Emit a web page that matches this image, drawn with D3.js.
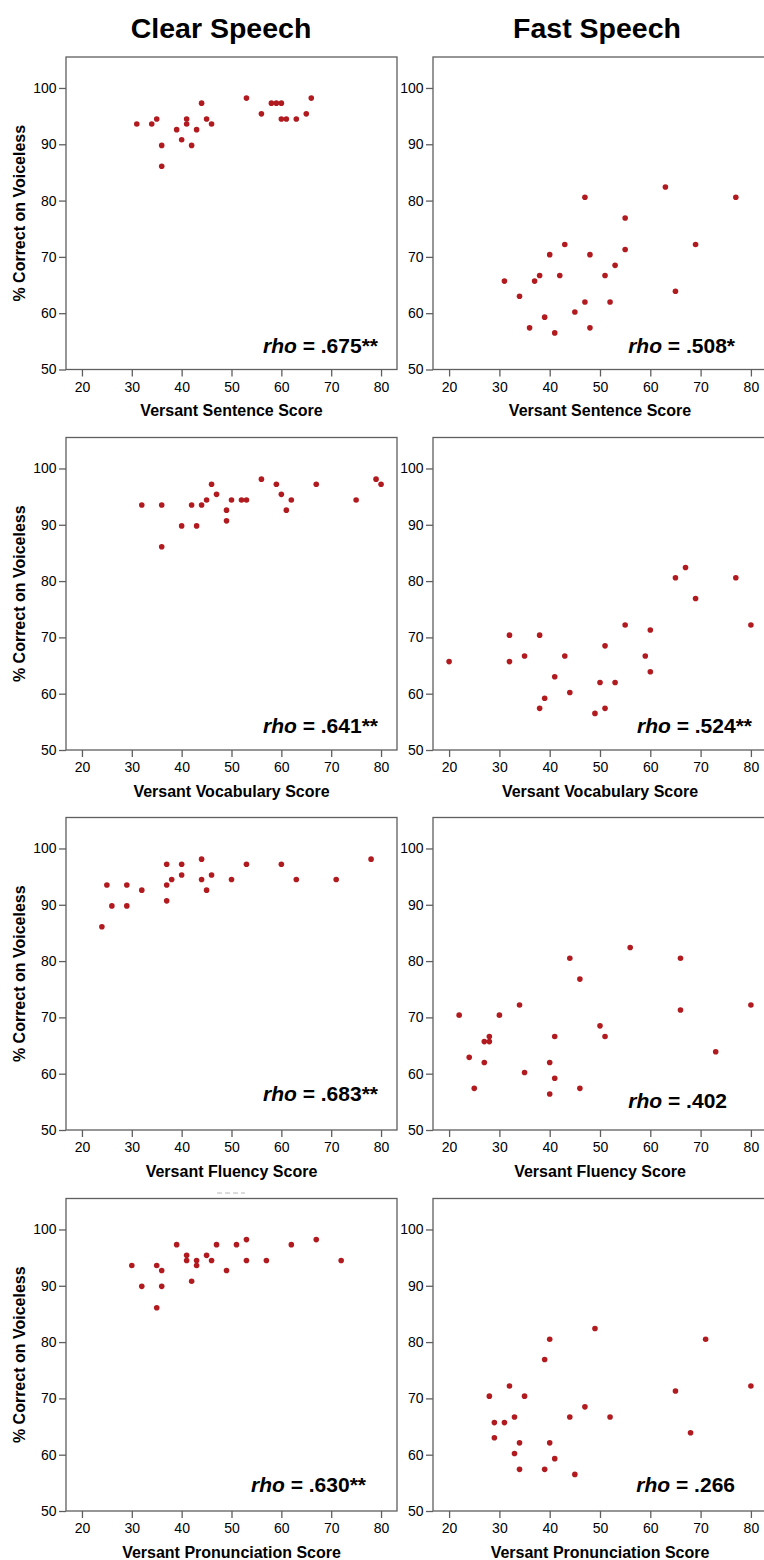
<!DOCTYPE html>
<html>
<head>
<meta charset="utf-8">
<script src="https://cdn.jsdelivr.net/npm/d3@7/dist/d3.min.js"></script>
<style>
  body { margin: 0; background: #ffffff; }
  svg  { display: block; font-family: "Liberation Sans", Arial, sans-serif; }
</style>
</head>
<body>
<div id="graph"></div>
<script>
// ---- chart text ----
const columnTitles = ["Clear Speech", "Fast Speech"];
const xAxisTitles = ["Versant Sentence Score", "Versant Vocabulary Score",
                     "Versant Fluency Score", "Versant Pronunciation Score"];
const yAxisTitle = "% Correct on Voiceless";
const xTicks = [20, 30, 40, 50, 60, 70, 80];
const yTicks = [50, 60, 70, 80, 90, 100];

// ---- data: [Versant score, % correct on voiceless] ----
const clearSentence = [[31,93.6],[34,93.6],[35,94.5],[36,89.8],[36,86.1],[39,92.6],[40,90.8],[41,94.5],
  [41,93.6],[42,89.8],[43,92.6],[44,97.3],[45,94.5],[46,93.6],[53,98.2],[56,95.4],[58,97.3],[59,97.3],
  [60,97.3],[60,94.5],[61,94.5],[63,94.5],[65,95.4],[66,98.2]];
const fastSentence = [[31,65.7],[34,63.0],[36,57.4],[37,65.7],[38,66.7],[39,59.3],[40,70.4],[41,56.5],
  [42,66.7],[43,72.2],[45,60.2],[47,80.6],[47,62.0],[48,70.4],[48,57.4],[51,66.7],[52,62.0],[53,68.5],
  [55,76.9],[55,71.3],[63,82.4],[65,63.9],[69,72.2],[77,80.6]];
const clearVocabulary = [[32,93.5],[36,93.5],[36,86.1],[40,89.8],[42,93.5],[43,89.8],[44,93.5],[45,94.4],
  [46,97.2],[47,95.4],[49,92.6],[49,90.7],[50,94.4],[52,94.4],[53,94.4],[56,98.1],[59,97.2],[60,95.4],
  [61,92.6],[62,94.4],[67,97.2],[75,94.4],[79,98.1],[80,97.2]];
const fastVocabulary = [[20,65.7],[32,70.4],[32,65.7],[35,66.7],[38,70.4],[38,57.4],[39,59.2],[41,63.0],
  [43,66.7],[44,60.2],[49,56.5],[50,62.0],[51,68.5],[51,57.4],[53,62.0],[55,72.2],[59,66.7],[60,71.3],
  [60,63.9],[65,80.6],[67,82.4],[69,76.9],[77,80.6],[80,72.2]];
const clearFluency = [[24,86.1],[25,93.5],[26,89.8],[29,93.5],[29,89.8],[32,92.6],[37,97.2],[37,93.5],
  [37,90.7],[38,94.5],[40,97.2],[40,95.3],[44,98.1],[44,94.5],[45,92.6],[46,95.3],[50,94.5],[53,97.2],
  [60,97.2],[63,94.5],[71,94.5],[78,98.1]];
const fastFluency = [[22,70.4],[24,62.9],[25,57.4],[27,65.7],[27,62.0],[28,66.6],[28,65.7],[30,70.4],
  [34,72.2],[35,60.2],[40,62.0],[40,56.4],[41,66.6],[41,59.2],[44,80.5],[46,76.8],[46,57.4],[50,68.5],
  [51,66.6],[56,82.4],[66,80.5],[66,71.3],[73,63.9],[80,72.2]];
const clearPronunciation = [[30,93.6],[32,89.9],[35,93.6],[35,86.1],[36,92.7],[36,89.9],[39,97.3],[41,95.4],
  [41,94.5],[42,90.8],[43,94.5],[43,93.6],[45,95.4],[46,94.5],[47,97.3],[49,92.7],[51,97.3],[53,98.2],
  [53,94.5],[57,94.5],[62,97.3],[67,98.2],[72,94.5]];
const fastPronunciation = [[28,70.4],[29,65.7],[29,63.0],[31,65.7],[32,72.2],[33,66.7],[33,60.2],[34,62.1],
  [34,57.4],[35,70.4],[39,76.9],[39,57.4],[40,80.5],[40,62.1],[41,59.3],[44,66.7],[45,56.5],[47,68.5],
  [49,82.4],[52,66.7],[65,71.3],[68,63.9],[71,80.5],[80,72.2]];

// Spearman's rho shown in each panel
const clearRho = [".675**", ".641**", ".683**", ".630**"];
const fastRho  = [".508*",  ".524**", ".402",   ".266"];

const clearData = [clearSentence, clearVocabulary, clearFluency, clearPronunciation];
const fastData  = [fastSentence,  fastVocabulary,  fastFluency,  fastPronunciation];

// ---- layout ----
const WIDTH = 764, HEIGHT = 1560;
const ROW_TOP = [57, 437.5, 817.5, 1198.5];
const PLOT_H = 312.5;
const COL_LEFT = [66, 433];
const PLOT_W = [331, 334];          // right column runs past the page edge
const X_DOMAIN = [16.8, 83.2];
const Y_DOMAIN = [50, 105.5];
const TITLE_X = [221, 597];
// rho label anchor: offset from the frame's bottom-right corner
const RHO_OFFSET = [
  [[-19, -17], [-32, -17]],
  [[-19, -17], [-15, -17]],
  [[-19, -29], [-40, -22]],
  [[-31, -19], [-32, -19]]
];

const POINT_COLOR = "#b11b1f";
const FRAME_COLOR = "#5f5f5f";

let svg = d3.select("#graph")
            .append("svg")
              .attr("width", WIDTH)
              .attr("height", HEIGHT);

// Column headings
svg.selectAll("text.col-title")
   .data(columnTitles)
   .join("text")
     .attr("class", "col-title")
     .attr("x", (d, i) => TITLE_X[i])
     .attr("y", 38)
     .attr("text-anchor", "middle")
     .attr("font-size", 28.5)
     .attr("font-weight", "bold")
     .text(d => d);

for (let row = 0; row < 4; row++) {
  draw_panel(row, 0, clearData[row], clearRho[row]);
  draw_panel(row, 1, fastData[row], fastRho[row]);
}

// faint clipped leftover above the last clear-speech panel
svg.append("line")
   .attr("x1", 217).attr("x2", 245)
   .attr("y1", 1193).attr("y2", 1193)
   .attr("stroke", "#b8b8b8")
   .attr("stroke-width", 1)
   .attr("stroke-dasharray", "5,3");

/**
 * One scatter panel: frame, axes, points, rho label
 */
function draw_panel(row, col, dataset, rho) {

  let left = COL_LEFT[col];
  let top = ROW_TOP[row];
  let w = PLOT_W[col];
  let h = PLOT_H;

  let xscale = d3.scaleLinear().domain(X_DOMAIN).range([0, w]);
  let yscale = d3.scaleLinear().domain(Y_DOMAIN).range([h, 0]);

  let g = svg.append("g")
             .attr("transform", `translate(${left}, ${top})`);

  // frame
  g.append("rect")
     .attr("width", w)
     .attr("height", h)
     .attr("fill", "none")
     .attr("stroke", FRAME_COLOR)
     .attr("stroke-width", 1.3);

  let x_axis = d3.axisBottom(xscale)
                 .tickValues(xTicks)
                 .tickSize(7)
                 .tickPadding(5.5)
                 .tickSizeOuter(0);

  let y_axis = d3.axisLeft(yscale)
                 .tickValues(yTicks)
                 .tickSize(7)
                 .tickPadding(2.5)
                 .tickSizeOuter(0);

  let xg = g.append("g")
            .attr("transform", `translate(0, ${h})`)
            .call(x_axis);

  let yg = g.append("g").call(y_axis);

  [xg, yg].forEach(a => {
    a.select(".domain").remove();
    a.selectAll("line").attr("stroke", FRAME_COLOR).attr("stroke-width", 1.3);
    a.selectAll("text")
       .attr("fill", "#000")
       .attr("font-size", 14)
       .attr("font-family", "'Liberation Sans', Arial, sans-serif");
  });

  // points
  g.selectAll("circle")
     .data(dataset)
     .join("circle")
       .attr("cx", d => xscale(d[0]))
       .attr("cy", d => yscale(d[1]))
       .attr("r", 2.8)
       .attr("fill", POINT_COLOR);

  // axis titles
  g.append("text")
     .attr("x", w / 2)
     .attr("y", h + 46.5)
     .attr("text-anchor", "middle")
     .attr("font-size", 16)
     .attr("font-weight", "bold")
     .text(xAxisTitles[row]);

  if (col === 0) {
    g.append("text")
       .attr("transform", `translate(${24.5 - left}, ${h / 2}) rotate(-90)`)
       .attr("text-anchor", "middle")
       .attr("font-size", 16)
       .attr("font-weight", "bold")
       .text(yAxisTitle);
  }

  // rho annotation
  let off = RHO_OFFSET[row][col];
  let label = g.append("text")
               .attr("x", w + off[0])
               .attr("y", h + off[1])
               .attr("text-anchor", "end")
               .attr("font-size", 21)
               .attr("font-weight", "bold");
  label.append("tspan").attr("font-style", "italic").text("rho");
  label.append("tspan").text(" = " + rho);
}
</script>
</body>
</html>
